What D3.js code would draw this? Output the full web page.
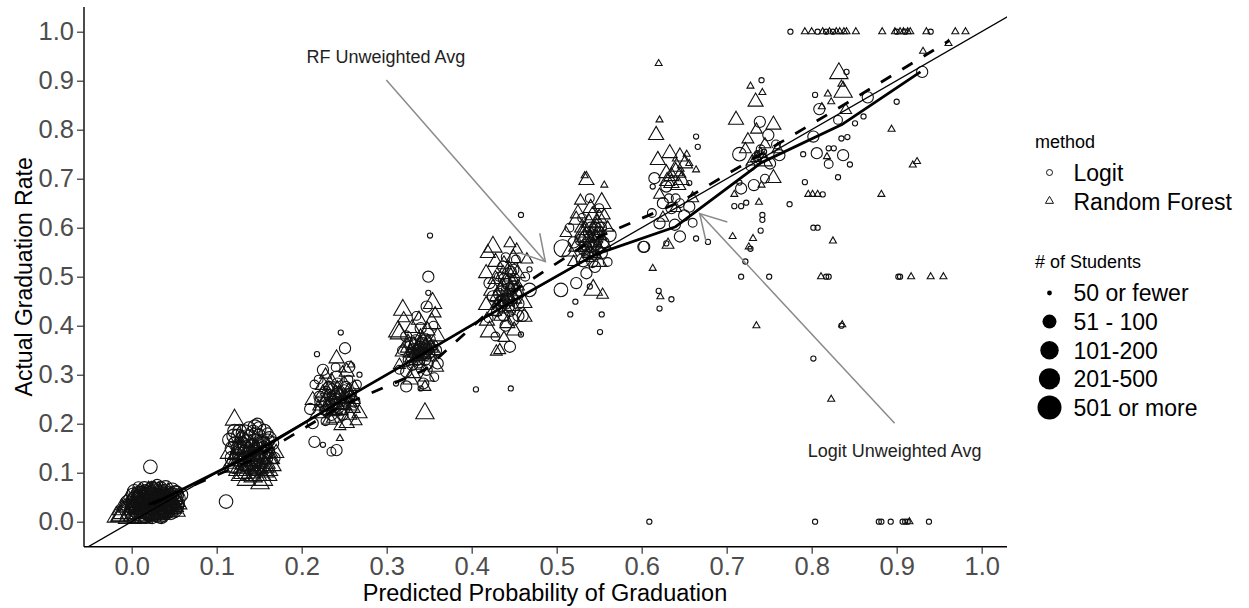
<!DOCTYPE html>
<html>
<head>
<meta charset="utf-8">
<script src="https://cdn.jsdelivr.net/npm/d3@7"></script>
<style>
  body { margin: 0; background: #fff; }
  text { font-family: "Liberation Sans", Arial, Helvetica, sans-serif; }
</style>
</head>
<body>
<svg id="chart" width="1249" height="608"></svg>
<script>
// ---- data ---------------------------------------------------------------
const xTicks = [0, 0.1, 0.2, 0.3, 0.4, 0.5, 0.6, 0.7, 0.8, 0.9, 1.0];
const yTicks = [0, 0.1, 0.2, 0.3, 0.4, 0.5, 0.6, 0.7, 0.8, 0.9, 1.0];
const methodLabels = ["Logit", "Random Forest"];
const sizeLabels = ["50 or fewer", "51 - 100", "101-200", "201-500", "501 or more"];

// [predicted, actual, size class] for each school, Logit model
const logitPoints = [
  // bin 0.0
  [0.000,0.030,3],[0.005,0.045,4],[0.010,0.020,3],[0.012,0.055,4],[0.015,0.035,4],[0.018,0.060,3],
  [0.020,0.025,4],[0.022,0.045,4],[0.024,0.010,3],[0.026,0.065,3],[0.028,0.035,4],[0.030,0.050,4],
  [0.032,0.020,3],[0.034,0.040,4],[0.036,0.058,3],[0.038,0.028,4],[0.040,0.045,3],[0.042,0.035,4],
  [0.045,0.030,3],[0.048,0.065,3],[0.050,0.045,4],[0.055,0.048,3],[0.022,0.112,3],[-0.005,0.040,3],
  [0.008,0.070,2],[0.016,0.008,2],[0.044,0.060,2],[0.030,0.075,2],[0.002,0.055,3],[0.018,0.040,3],
  [0.035,0.010,3],[0.052,0.060,3],[0.006,0.025,4],[0.040,0.070,3],[0.026,0.052,4],[0.012,0.038,4],
  [0.004,0.035,4],[0.010,0.048,4],[0.014,0.025,4],[0.020,0.052,4],[0.024,0.030,4],[0.028,0.042,4],
  [0.032,0.030,4],[0.036,0.048,4],[0.040,0.022,4],[0.044,0.040,4],[0.048,0.052,4],[0.016,0.062,3],
  [0.024,0.068,3],[0.034,0.068,3],[0.046,0.018,3],[0.008,0.058,3],[0.000,0.015,3],[0.054,0.038,3],
  [0.058,0.055,3],[0.020,0.015,3],[0.002,0.022,4],[0.007,0.032,4],[0.011,0.043,4],[0.013,0.015,4],
  [0.017,0.050,4],[0.019,0.033,4],[0.023,0.020,4],[0.025,0.038,4],[0.027,0.058,4],[0.029,0.027,4],
  [0.031,0.044,4],[0.033,0.015,4],[0.035,0.035,4],[0.037,0.052,4],[0.039,0.038,4],[0.041,0.028,4],
  [0.043,0.050,4],[0.046,0.036,4],[0.049,0.025,4],[0.051,0.055,4],[0.003,0.062,3],[0.015,0.068,3],
  [0.038,0.062,3],[0.053,0.030,3],[0.021,0.058,3],
  // bin 0.1
  [0.121,0.185,3],[0.130,0.170,3],[0.138,0.190,3],[0.145,0.194,3],[0.150,0.175,3],[0.155,0.160,3],
  [0.160,0.180,2],[0.115,0.167,3],[0.125,0.150,3],[0.135,0.140,4],[0.142,0.155,3],[0.150,0.135,3],
  [0.160,0.145,3],[0.165,0.160,3],[0.118,0.130,3],[0.128,0.120,3],[0.140,0.120,3],[0.155,0.115,3],
  [0.145,0.105,2],[0.132,0.100,3],[0.111,0.041,3],[0.148,0.200,2],[0.168,0.130,2],[0.120,0.110,2],
  [0.125,0.175,3],[0.133,0.180,4],[0.140,0.170,4],[0.147,0.165,3],[0.135,0.160,4],[0.128,0.140,4],
  [0.145,0.130,4],[0.155,0.150,3],[0.122,0.160,3],[0.138,0.150,4],[0.150,0.190,3],[0.160,0.165,3],
  [0.132,0.130,3],[0.148,0.145,4],[0.143,0.183,3],[0.118,0.150,3],[0.124,0.135,3],[0.130,0.155,4],
  [0.136,0.170,4],[0.142,0.140,4],[0.146,0.178,3],[0.152,0.160,4],[0.158,0.130,3],[0.162,0.170,3],
  [0.127,0.185,3],[0.134,0.115,3],[0.144,0.115,3],[0.152,0.125,3],[0.120,0.175,3],[0.156,0.185,3],
  // bin 0.2
  [0.246,0.386,0],[0.218,0.342,0],[0.251,0.354,2],[0.225,0.310,2],[0.241,0.296,2],[0.256,0.316,2],
  [0.221,0.255,2],[0.237,0.242,3],[0.258,0.262,2],[0.213,0.201,2],[0.230,0.225,2],[0.245,0.265,2],
  [0.265,0.280,1],[0.232,0.275,2],[0.215,0.280,1],[0.250,0.230,2],[0.262,0.245,2],[0.228,0.205,1],
  [0.215,0.163,2],[0.241,0.146,2],[0.235,0.143,1],[0.225,0.157,0],[0.268,0.300,0],[0.210,0.230,2],
  [0.255,0.290,1],[0.240,0.315,1],[0.220,0.290,1],[0.238,0.255,3],[0.245,0.245,2],[0.232,0.238,2],
  [0.250,0.268,2],[0.228,0.265,2],[0.242,0.282,2],[0.256,0.255,2],[0.235,0.218,2],[0.248,0.218,2],
  [0.222,0.245,2],[0.240,0.250,2],[0.233,0.258,2],[0.247,0.258,2],[0.252,0.245,2],[0.228,0.228,2],
  [0.243,0.232,2],[0.236,0.270,2],[0.252,0.275,2],
  // bin 0.3
  [0.349,0.500,2],[0.349,0.467,0],[0.347,0.439,2],[0.335,0.420,1],[0.323,0.378,2],[0.339,0.357,2],
  [0.358,0.350,2],[0.329,0.337,2],[0.345,0.330,2],[0.323,0.306,2],[0.347,0.310,2],[0.315,0.310,1],
  [0.360,0.323,2],[0.323,0.276,2],[0.343,0.282,2],[0.311,0.282,0],[0.340,0.272,0],[0.333,0.360,2],
  [0.352,0.372,1],[0.318,0.350,1],[0.355,0.400,1],[0.340,0.395,2],[0.330,0.320,2],[0.356,0.295,1],
  [0.351,0.584,0],[0.338,0.345,2],[0.345,0.340,2],[0.332,0.352,2],[0.350,0.345,2],[0.328,0.365,2],
  [0.342,0.365,2],[0.336,0.330,2],[0.348,0.322,2],[0.326,0.330,2],[0.354,0.360,2],[0.336,0.350,2],
  [0.344,0.358,2],[0.340,0.340,2],[0.330,0.345,2],[0.348,0.352,2],[0.334,0.370,2],[0.346,0.372,2],
  [0.338,0.325,2],
  // bin 0.4
  [0.458,0.626,0],[0.468,0.515,0],[0.437,0.520,2],[0.449,0.514,2],[0.468,0.473,3],[0.421,0.487,2],
  [0.443,0.473,3],[0.437,0.452,2],[0.449,0.412,2],[0.445,0.357,2],[0.458,0.382,0],[0.430,0.430,2],
  [0.455,0.445,2],[0.425,0.460,2],[0.440,0.400,2],[0.460,0.420,2],[0.432,0.500,1],[0.452,0.535,1],
  [0.420,0.415,1],[0.463,0.500,1],[0.405,0.270,0],[0.446,0.272,0],[0.440,0.540,1],[0.428,0.378,1],
  [0.440,0.445,2],[0.448,0.455,2],[0.435,0.440,2],[0.445,0.430,2],[0.452,0.465,2],[0.432,0.465,2],
  [0.442,0.485,2],[0.450,0.495,2],[0.438,0.420,2],[0.455,0.420,2],[0.442,0.455,2],[0.436,0.470,2],
  [0.448,0.475,2],[0.444,0.440,2],[0.438,0.495,2],[0.450,0.480,2],[0.434,0.450,2],[0.446,0.510,2],
  // bin 0.5
  [0.539,0.660,1],[0.507,0.558,4],[0.562,0.585,3],[0.553,0.548,2],[0.531,0.534,3],[0.535,0.507,2],
  [0.505,0.473,3],[0.523,0.487,2],[0.539,0.480,0],[0.522,0.449,0],[0.516,0.423,0],[0.553,0.423,0],
  [0.551,0.387,0],[0.603,0.561,2],[0.545,0.600,2],[0.530,0.620,1],[0.555,0.570,2],[0.520,0.570,2],
  [0.545,0.520,2],[0.560,0.530,1],[0.535,0.580,3],[0.515,0.600,1],[0.550,0.640,1],[0.540,0.560,2],
  [0.548,0.575,2],[0.532,0.555,2],[0.545,0.545,2],[0.538,0.590,2],[0.552,0.600,2],[0.528,0.575,2],
  [0.542,0.530,2],[0.538,0.570,2],[0.544,0.585,2],[0.534,0.565,2],[0.548,0.555,2],[0.540,0.600,2],
  [0.546,0.565,2],[0.536,0.545,2],[0.550,0.590,2],
  // bin 0.6
  [0.664,0.786,0],[0.666,0.765,0],[0.615,0.701,2],[0.629,0.684,2],[0.625,0.650,2],[0.656,0.643,2],
  [0.621,0.609,2],[0.639,0.606,2],[0.602,0.561,2],[0.645,0.582,2],[0.656,0.691,0],[0.664,0.578,0],
  [0.678,0.571,0],[0.613,0.684,0],[0.629,0.568,0],[0.620,0.471,0],[0.635,0.454,0],[0.621,0.435,0],
  [0.609,0.000,0],[0.650,0.625,2],[0.635,0.640,2],[0.612,0.630,1],[0.660,0.610,1],[0.640,0.660,1],
  [0.632,0.660,1],[0.645,0.650,1],
  // bin 0.7
  [0.741,0.901,0],[0.715,0.750,3],[0.739,0.816,2],[0.749,0.789,2],[0.762,0.748,2],[0.717,0.680,2],
  [0.732,0.687,2],[0.751,0.731,2],[0.735,0.745,1],[0.715,0.692,0],[0.709,0.644,0],[0.717,0.644,0],
  [0.723,0.651,0],[0.774,0.648,0],[0.742,0.626,0],[0.742,0.616,0],[0.740,0.594,0],[0.728,0.557,0],
  [0.722,0.531,0],[0.717,0.500,0],[0.750,0.500,0],[0.740,0.760,1],[0.728,0.725,1],[0.745,0.700,1],
  [0.758,0.770,1],[0.738,0.748,1],[0.742,0.742,1],[0.736,0.752,0],[0.744,0.755,0],
  // bin 0.8
  [0.775,1.000,0],[0.804,0.871,0],[0.809,0.842,2],[0.866,0.866,2],[0.900,0.857,0],[0.861,0.827,0],
  [0.851,0.813,0],[0.831,0.820,1],[0.802,0.786,2],[0.806,0.752,2],[0.837,0.748,2],[0.790,0.750,0],
  [0.835,0.782,0],[0.842,0.785,0],[0.820,0.762,0],[0.826,0.762,0],[0.845,0.729,0],[0.831,0.703,0],
  [0.792,0.693,0],[0.813,0.668,0],[0.802,0.600,0],[0.807,0.600,0],[0.817,0.500,0],[0.820,0.500,0],
  [0.835,0.400,0],[0.802,0.333,0],[0.804,0.000,0],[0.841,0.918,0],[0.820,0.730,1],
  [0.807,1.000,0],[0.817,1.000,0],[0.825,1.000,0],
  // bin 0.9
  [0.930,0.918,2],[0.902,0.500,0],[0.904,0.500,0],[0.879,0.000,0],[0.882,0.000,0],[0.893,0.000,0],
  [0.907,0.000,0],[0.910,0.000,0],[0.913,0.000,0],[0.938,0.000,0],[0.900,1.000,0],[0.910,1.000,0],
  [0.940,1.000,0]
];

// [predicted, actual, size class] for each school, Random Forest model
const forestPoints = [
  // bin 0.0
  [-0.018,0.010,3],[-0.010,0.015,4],[-0.005,0.030,3],[0.000,0.020,4],[0.005,0.040,3],[0.008,0.012,4],
  [0.012,0.030,4],[0.015,0.050,3],[0.018,0.022,4],[0.022,0.038,4],[0.025,0.015,3],[0.028,0.050,3],
  [0.030,0.028,4],[0.034,0.045,3],[0.036,0.020,3],[0.040,0.035,3],[0.044,0.025,3],[0.048,0.040,3],
  [0.052,0.030,2],[0.010,0.060,2],[0.020,0.065,2],[0.040,0.055,2],[0.003,0.050,3],[0.016,0.035,4],
  [0.026,0.045,3],[0.032,0.060,3],[0.006,0.028,3],[0.045,0.045,2],[0.000,0.035,4],[0.006,0.045,4],
  [0.010,0.025,4],[0.014,0.042,4],[0.020,0.030,4],[0.024,0.048,4],[0.028,0.022,4],[0.032,0.038,4],
  [0.036,0.030,4],[0.040,0.045,3],[0.044,0.035,3],[0.048,0.028,3],[0.052,0.042,3],[-0.012,0.025,3],
  [-0.002,0.010,4],[0.014,0.008,3],[0.030,0.012,3],[0.018,0.055,3],[0.038,0.055,3],[0.054,0.020,2],
  [-0.008,0.020,4],[-0.004,0.038,4],[0.002,0.028,4],[0.004,0.015,4],[0.008,0.038,4],[0.011,0.020,4],
  [0.013,0.048,4],[0.017,0.028,4],[0.019,0.042,4],[0.021,0.015,4],[0.023,0.055,4],[0.026,0.030,4],
  [0.029,0.040,4],[0.031,0.020,4],[0.033,0.052,4],[0.035,0.038,4],[0.038,0.025,4],[0.042,0.042,4],
  [0.046,0.030,3],[0.050,0.048,3],[0.008,0.052,3],[0.027,0.062,3],[0.043,0.058,3],[-0.014,0.012,3],
  [0.056,0.035,2],
  // bin 0.1
  [0.121,0.208,3],[0.119,0.112,3],[0.131,0.099,3],[0.143,0.092,3],[0.151,0.078,3],[0.156,0.102,3],
  [0.162,0.129,3],[0.165,0.115,3],[0.126,0.125,3],[0.138,0.115,3],[0.148,0.120,3],[0.135,0.135,3],
  [0.145,0.145,3],[0.155,0.140,3],[0.125,0.150,2],[0.115,0.140,3],[0.140,0.160,2],[0.160,0.150,2],
  [0.135,0.085,3],[0.170,0.140,2],[0.128,0.170,2],[0.130,0.110,3],[0.140,0.100,3],[0.150,0.110,3],
  [0.158,0.120,3],[0.145,0.130,3],[0.135,0.125,3],[0.125,0.105,3],[0.148,0.095,3],[0.160,0.095,3],
  [0.140,0.140,3],[0.150,0.155,3],[0.130,0.150,3],[0.120,0.125,3],[0.155,0.085,3],[0.165,0.128,2],
  [0.118,0.120,3],[0.124,0.138,3],[0.128,0.095,3],[0.133,0.118,3],[0.137,0.105,3],[0.142,0.125,3],
  [0.146,0.108,3],[0.150,0.135,3],[0.153,0.095,3],[0.157,0.112,3],[0.161,0.105,3],[0.137,0.145,3],
  [0.132,0.160,2],[0.147,0.150,2],[0.163,0.140,2],
  // bin 0.2
  [0.241,0.333,2],[0.225,0.279,2],[0.253,0.306,2],[0.268,0.221,2],[0.213,0.248,2],[0.219,0.221,2],
  [0.245,0.228,2],[0.256,0.218,2],[0.233,0.208,2],[0.253,0.201,2],[0.245,0.170,0],[0.230,0.255,2],
  [0.260,0.250,2],[0.240,0.260,2],[0.220,0.235,1],[0.262,0.275,1],[0.235,0.290,1],[0.250,0.280,2],
  [0.228,0.300,1],[0.245,0.195,1],[0.258,0.235,1],[0.264,0.205,1],[0.236,0.225,2],[0.258,0.320,0],
  [0.248,0.310,0],[0.238,0.240,2],[0.248,0.250,2],[0.228,0.245,2],[0.255,0.265,2],[0.242,0.270,2],
  [0.232,0.228,2],[0.250,0.238,2],[0.225,0.262,2],[0.260,0.232,2],[0.238,0.212,2],[0.236,0.248,2],
  [0.244,0.258,2],[0.252,0.252,2],[0.230,0.235,2],[0.246,0.240,2],[0.240,0.226,2],[0.232,0.270,2],
  [0.256,0.245,2],
  // bin 0.3
  [0.354,0.446,3],[0.319,0.432,3],[0.313,0.388,3],[0.353,0.405,3],[0.360,0.378,2],[0.331,0.303,2],
  [0.347,0.296,2],[0.319,0.347,2],[0.358,0.316,2],[0.345,0.221,3],[0.315,0.384,3],[0.338,0.412,2],
  [0.325,0.365,2],[0.342,0.345,2],[0.350,0.360,2],[0.335,0.330,2],[0.328,0.290,2],[0.345,0.275,1],
  [0.320,0.415,1],[0.357,0.425,1],[0.340,0.380,1],[0.315,0.320,1],[0.352,0.335,1],[0.335,0.345,2],
  [0.345,0.355,2],[0.330,0.335,2],[0.350,0.345,2],[0.340,0.362,2],[0.325,0.355,2],[0.355,0.350,2],
  [0.338,0.320,2],[0.330,0.395,2],[0.348,0.390,2],[0.338,0.352,2],[0.344,0.342,2],[0.332,0.360,2],
  [0.348,0.365,2],[0.336,0.338,2],[0.342,0.372,2],[0.328,0.345,2],[0.352,0.355,2],
  // bin 0.4
  [0.425,0.561,3],[0.445,0.568,1],[0.453,0.555,1],[0.419,0.548,2],[0.449,0.538,2],[0.428,0.530,2],
  [0.417,0.507,2],[0.454,0.507,2],[0.425,0.473,3],[0.462,0.446,2],[0.417,0.442,2],[0.462,0.418,2],
  [0.421,0.388,3],[0.429,0.347,1],[0.433,0.350,1],[0.440,0.490,2],[0.445,0.455,2],[0.435,0.420,2],
  [0.450,0.390,2],[0.418,0.410,2],[0.455,0.480,1],[0.465,0.535,1],[0.438,0.375,1],[0.440,0.450,2],
  [0.430,0.460,2],[0.448,0.440,2],[0.436,0.480,2],[0.446,0.500,2],[0.428,0.495,2],[0.452,0.470,2],
  [0.438,0.525,2],[0.426,0.430,2],[0.442,0.405,2],[0.442,0.462,2],[0.434,0.472,2],[0.448,0.485,2],
  [0.440,0.435,2],[0.444,0.515,2],[0.432,0.445,2],[0.450,0.455,2],[0.437,0.505,2],
  // bin 0.5
  [0.535,0.697,2],[0.556,0.687,0],[0.533,0.706,0],[0.553,0.650,3],[0.525,0.629,2],[0.523,0.616,2],
  [0.511,0.589,1],[0.547,0.602,2],[0.523,0.561,2],[0.539,0.551,2],[0.555,0.568,2],[0.515,0.551,2],
  [0.543,0.473,3],[0.554,0.463,1],[0.530,0.590,2],[0.545,0.580,2],[0.560,0.600,1],[0.535,0.540,2],
  [0.550,0.530,2],[0.520,0.530,1],[0.540,0.640,2],[0.528,0.655,1],[0.556,0.625,1],[0.540,0.570,2],
  [0.548,0.560,2],[0.532,0.580,2],[0.545,0.595,2],[0.538,0.610,2],[0.550,0.620,2],[0.530,0.600,2],
  [0.544,0.545,2],[0.538,0.580,2],[0.544,0.570,2],[0.534,0.595,2],[0.548,0.610,2],[0.542,0.625,2],
  [0.536,0.560,2],[0.550,0.585,2],[0.540,0.548,2],
  // bin 0.6
  [0.620,0.935,0],[0.621,0.820,0],[0.617,0.789,2],[0.633,0.752,2],[0.619,0.738,2],[0.645,0.745,2],
  [0.651,0.731,2],[0.641,0.724,2],[0.629,0.711,2],[0.647,0.697,2],[0.635,0.691,2],[0.643,0.687,2],
  [0.656,0.731,0],[0.664,0.718,0],[0.653,0.750,0],[0.621,0.667,1],[0.631,0.565,1],[0.613,0.517,0],
  [0.622,0.459,0],[0.660,0.660,1],[0.640,0.640,1],[0.625,0.620,1],[0.635,0.705,2],[0.640,0.715,2],
  [0.630,0.695,2],[0.645,0.710,1],
  // bin 0.7
  [0.728,0.889,0],[0.742,0.876,0],[0.734,0.857,2],[0.711,0.820,2],[0.755,0.810,2],[0.755,0.701,2],
  [0.738,0.652,0],[0.741,0.687,0],[0.709,0.668,0],[0.707,0.582,0],[0.731,0.578,0],[0.726,0.561,0],
  [0.735,0.400,0],[0.725,0.780,1],[0.745,0.770,1],[0.735,0.800,1],[0.722,0.760,1],[0.745,0.735,2],
  [0.760,0.760,1],[0.730,0.735,1],[0.740,0.750,1],[0.735,0.742,1],
  // bin 0.8
  [0.792,1.000,0],[0.800,1.000,0],[0.813,1.000,0],[0.821,1.000,0],[0.829,1.000,0],[0.833,1.000,0],
  [0.838,1.000,0],[0.841,1.000,0],[0.852,1.000,0],[0.832,0.915,3],[0.835,0.893,0],[0.837,0.877,3],
  [0.819,0.873,0],[0.812,0.847,0],[0.823,0.857,0],[0.796,0.668,0],[0.801,0.668,0],[0.807,0.668,0],
  [0.825,0.573,0],[0.811,0.500,0],[0.836,0.402,0],[0.823,0.250,0],[0.818,0.745,0],[0.840,0.840,1],
  // bin 0.9
  [0.883,1.000,0],[0.898,1.000,0],[0.904,1.000,0],[0.908,1.000,0],[0.913,1.000,0],[0.916,1.000,0],
  [0.935,1.000,0],[0.969,1.000,0],[0.981,1.000,0],[0.894,0.801,0],[0.919,0.728,0],[0.924,0.735,0],
  [0.931,0.960,0],[0.961,0.976,0],[0.882,0.668,0],[0.917,0.500,0],[0.940,0.500,0],[0.955,0.500,0],
  [0.915,0.000,0]
];

// unweighted bin averages
const logitAvg = [
  [0.025,0.036],[0.138,0.134],[0.243,0.243],[0.343,0.343],[0.443,0.445],
  [0.545,0.545],[0.640,0.602],[0.740,0.732],[0.835,0.810],[0.928,0.918]
];
const forestAvg = [
  [0.020,0.035],[0.140,0.125],[0.245,0.235],[0.345,0.310],[0.440,0.460],
  [0.545,0.578],[0.648,0.655],[0.745,0.755],[0.842,0.855],[0.962,0.982]
];

// callouts: label position and arrow from -> to
const callouts = [
  { label: "RF Unweighted Avg",    tx: 0.299, ty: 0.937, from: [0.2996, 0.9014], to: [0.4867, 0.5306] },
  { label: "Logit Unweighted Avg", tx: 0.8976, ty: 0.1327, from: [0.8976, 0.2008], to: [0.6682, 0.6290] }
];

// ---- layout -------------------------------------------------------------
const svg = d3.select("#chart");
const plotL = 84, plotR = 1007, plotT = 7, plotB = 546.7;

const x = d3.scaleLinear().domain([-0.0561, 1.0298]).range([plotL, plotR]);
const y = d3.scaleLinear().domain([-0.0510, 1.0504]).range([plotB, plotT]);
const radius = d3.scaleOrdinal().domain([0, 1, 2, 3, 4]).range([2.6, 4.4, 5.6, 6.8, 8.6]);
const legendRadius = d3.scaleOrdinal().domain([0, 1, 2, 3, 4]).range([2.4, 7, 9.2, 10.6, 12]);

// equal-area triangle around the point, centred on its centroid
function trianglePath(r) {
  const a = 1.555 * r, b = 1.347 * r, c = 0.778 * r;
  return `M0,${-a}L${b},${c}L${-b},${c}Z`;
}

svg.append("defs").append("clipPath").attr("id", "plotClip")
  .append("rect").attr("x", plotL).attr("y", plotT)
  .attr("width", plotR - plotL).attr("height", plotB - plotT);

const plot = svg.append("g").attr("clip-path", "url(#plotClip)");

// schools
plot.append("g").selectAll("circle").data(logitPoints).join("circle")
  .attr("cx", d => x(d[0])).attr("cy", d => y(d[1]))
  .attr("r", d => radius(d[2]))
  .attr("fill", "none").attr("stroke", "#111").attr("stroke-width", 1.1);

plot.append("g").selectAll("path").data(forestPoints).join("path")
  .attr("transform", d => `translate(${x(d[0])},${y(d[1])})`)
  .attr("d", d => trianglePath(radius(d[2])))
  .attr("fill", "none").attr("stroke", "#111").attr("stroke-width", 1.1);

// reference line y = x
plot.append("line")
  .attr("x1", x(-0.1)).attr("y1", y(-0.1))
  .attr("x2", x(1.1)).attr("y2", y(1.1))
  .attr("stroke", "#000").attr("stroke-width", 1.3);

const line = d3.line().x(d => x(d[0])).y(d => y(d[1]));

plot.append("path").datum(logitAvg).attr("d", line)
  .attr("fill", "none").attr("stroke", "#000").attr("stroke-width", 2.8)
  .attr("stroke-linejoin", "round");

plot.append("path").datum(forestAvg).attr("d", line)
  .attr("fill", "none").attr("stroke", "#000").attr("stroke-width", 2.8)
  .attr("stroke-dasharray", "12,13");

// callouts with open arrowheads
const callG = svg.append("g");
callouts.forEach(c => {
  const x1 = x(c.from[0]), y1 = y(c.from[1]), x2 = x(c.to[0]), y2 = y(c.to[1]);
  const ang = Math.atan2(y1 - y2, x1 - x2), len = 29, spread = Math.PI / 6;
  callG.append("line").attr("x1", x1).attr("y1", y1).attr("x2", x2).attr("y2", y2)
    .attr("stroke", "#8a8a8a").attr("stroke-width", 1.5);
  callG.append("path")
    .attr("d", `M${x2 + len * Math.cos(ang + spread)},${y2 + len * Math.sin(ang + spread)}` +
               `L${x2},${y2}` +
               `L${x2 + len * Math.cos(ang - spread)},${y2 + len * Math.sin(ang - spread)}`)
    .attr("fill", "none").attr("stroke", "#8a8a8a").attr("stroke-width", 1.5);
  callG.append("text").attr("x", x(c.tx)).attr("y", y(c.ty))
    .attr("text-anchor", "middle").attr("font-size", 18).attr("fill", "#222")
    .text(c.label);
});

// ---- axes ---------------------------------------------------------------
const fmt = d3.format(".1f");
const xAxis = svg.append("g").attr("transform", `translate(0,${plotB})`)
  .call(d3.axisBottom(x).tickValues(xTicks).tickFormat(fmt).tickSize(7).tickPadding(3));
const yAxis = svg.append("g").attr("transform", `translate(${plotL},0)`)
  .call(d3.axisLeft(y).tickValues(yTicks).tickFormat(fmt).tickSize(7).tickPadding(3));

[xAxis, yAxis].forEach(g => {
  g.select(".domain").attr("stroke", "#000").attr("stroke-width", 1.4);
  g.selectAll(".tick line").attr("stroke", "#333").attr("stroke-width", 1.2);
  g.selectAll(".tick text").attr("fill", "#4d4d4d").attr("font-size", 25.5)
    .attr("font-family", '"Liberation Sans", Arial, Helvetica, sans-serif');
});
xAxis.select(".domain").attr("d", `M${plotL},0H${plotR}`);
yAxis.select(".domain").attr("d", `M0,${plotT}V${plotB}`);

svg.append("text").attr("x", 545).attr("y", 601)
  .attr("text-anchor", "middle").attr("font-size", 23.5).attr("fill", "#000")
  .text("Predicted Probability of Graduation");

svg.append("text")
  .attr("transform", `translate(31.5,${(plotT + plotB) / 2}) rotate(-90)`)
  .attr("text-anchor", "middle").attr("font-size", 23).attr("fill", "#000")
  .text("Actual Graduation Rate");

// ---- legends ------------------------------------------------------------
const lg = svg.append("g");
const keyX = 1049.5, labelX = 1073.5;

lg.append("text").attr("x", 1035).attr("y", 148).attr("font-size", 18).text("method");
methodLabels.forEach((m, i) => {
  const cy = 172.5 + i * 28.5;
  if (i === 0) {
    lg.append("circle").attr("cx", keyX).attr("cy", cy).attr("r", 3)
      .attr("fill", "none").attr("stroke", "#111").attr("stroke-width", 1);
  } else {
    lg.append("path").attr("transform", `translate(${keyX},${cy})`)
      .attr("d", trianglePath(3)).attr("fill", "none").attr("stroke", "#111").attr("stroke-width", 1);
  }
  lg.append("text").attr("x", labelX).attr("y", cy + 8.5).attr("font-size", 23).text(m);
});

lg.append("text").attr("x", 1035).attr("y", 268).attr("font-size", 18).text("# of Students");
sizeLabels.forEach((s, i) => {
  const cy = 293 + i * 28.6;
  lg.append("circle").attr("cx", keyX).attr("cy", cy).attr("r", legendRadius(i)).attr("fill", "#000");
  lg.append("text").attr("x", labelX).attr("y", cy + 8.3).attr("font-size", 23).text(s);
});
</script>
</body>
</html>
